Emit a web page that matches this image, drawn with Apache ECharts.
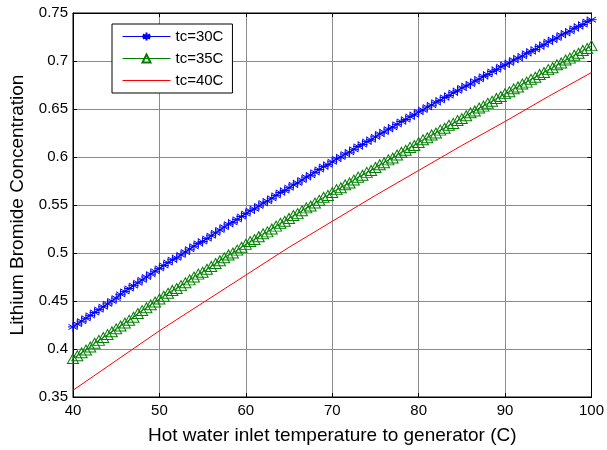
<!DOCTYPE html>
<html>
<head>
<meta charset="utf-8">
<script src="https://cdn.jsdelivr.net/npm/echarts@6/dist/echarts.min.js"></script>
<style>
    html, body { margin: 0; padding: 0; background: #fff; }
    #main { width: 607px; height: 450px; }
</style>
</head>
<body>
<div id="main"></div>
<script type="text/javascript">
    // hot water inlet temperature (C), step 0.5
    var tg = [40, 40.5, 41, 41.5, 42, 42.5, 43, 43.5, 44, 44.5, 45, 45.5, 46, 46.5, 47, 47.5, 48, 48.5, 49, 49.5,
        50, 50.5, 51, 51.5, 52, 52.5, 53, 53.5, 54, 54.5, 55, 55.5, 56, 56.5, 57, 57.5, 58, 58.5, 59, 59.5,
        60, 60.5, 61, 61.5, 62, 62.5, 63, 63.5, 64, 64.5, 65, 65.5, 66, 66.5, 67, 67.5, 68, 68.5, 69, 69.5,
        70, 70.5, 71, 71.5, 72, 72.5, 73, 73.5, 74, 74.5, 75, 75.5, 76, 76.5, 77, 77.5, 78, 78.5, 79, 79.5,
        80, 80.5, 81, 81.5, 82, 82.5, 83, 83.5, 84, 84.5, 85, 85.5, 86, 86.5, 87, 87.5, 88, 88.5, 89, 89.5,
        90, 90.5, 91, 91.5, 92, 92.5, 93, 93.5, 94, 94.5, 95, 95.5, 96, 96.5, 97, 97.5, 98, 98.5, 99, 99.5, 100];

    var tc30 = [0.423, 0.426, 0.429, 0.432, 0.435, 0.438, 0.441, 0.444, 0.447, 0.450, 0.453, 0.457, 0.460, 0.463, 0.466, 0.469, 0.472, 0.475, 0.478, 0.481,
        0.484, 0.487, 0.490, 0.493, 0.495, 0.498, 0.501, 0.504, 0.507, 0.510, 0.512, 0.515, 0.518, 0.521, 0.524, 0.527, 0.530, 0.532, 0.535, 0.538,
        0.541, 0.544, 0.546, 0.549, 0.552, 0.554, 0.557, 0.560, 0.563, 0.565, 0.568, 0.571, 0.573, 0.576, 0.579, 0.581, 0.584, 0.587, 0.590, 0.592,
        0.595, 0.598, 0.600, 0.603, 0.605, 0.608, 0.611, 0.613, 0.616, 0.618, 0.621, 0.624, 0.626, 0.629, 0.631, 0.634, 0.637, 0.639, 0.642, 0.644,
        0.647, 0.649, 0.652, 0.654, 0.657, 0.659, 0.662, 0.664, 0.667, 0.669, 0.672, 0.674, 0.676, 0.679, 0.681, 0.684, 0.686, 0.689, 0.691, 0.694,
        0.696, 0.698, 0.701, 0.703, 0.705, 0.708, 0.710, 0.712, 0.715, 0.717, 0.720, 0.722, 0.724, 0.727, 0.729, 0.731, 0.734, 0.736, 0.738, 0.741, 0.743];

    var tc35 = [0.390, 0.393, 0.396, 0.399, 0.402, 0.406, 0.409, 0.412, 0.415, 0.418, 0.421, 0.424, 0.427, 0.430, 0.433, 0.437, 0.440, 0.443, 0.446, 0.449,
        0.452, 0.455, 0.458, 0.461, 0.463, 0.466, 0.469, 0.472, 0.475, 0.478, 0.480, 0.483, 0.486, 0.489, 0.492, 0.495, 0.498, 0.500, 0.503, 0.506,
        0.509, 0.512, 0.514, 0.517, 0.520, 0.522, 0.525, 0.528, 0.531, 0.533, 0.536, 0.539, 0.541, 0.544, 0.547, 0.549, 0.552, 0.555, 0.558, 0.560,
        0.563, 0.566, 0.568, 0.571, 0.573, 0.576, 0.579, 0.581, 0.584, 0.586, 0.589, 0.592, 0.594, 0.597, 0.599, 0.602, 0.605, 0.607, 0.610, 0.612,
        0.615, 0.618, 0.620, 0.623, 0.625, 0.628, 0.630, 0.633, 0.635, 0.638, 0.640, 0.643, 0.646, 0.648, 0.651, 0.653, 0.656, 0.658, 0.661, 0.663,
        0.666, 0.668, 0.671, 0.673, 0.676, 0.678, 0.681, 0.683, 0.686, 0.688, 0.691, 0.693, 0.696, 0.698, 0.701, 0.703, 0.706, 0.708, 0.711, 0.713, 0.716];

    // red curve has no markers, read every 5 C
    var tg40 = [40, 45, 50, 55, 60, 65, 70, 75, 80, 85, 90, 95, 100];
    var tc40 = [0.357, 0.388, 0.419, 0.448, 0.477, 0.506, 0.533, 0.560, 0.586, 0.612, 0.637, 0.663, 0.688];

    var seriesNames = ['tc=30C', 'tc=35C', 'tc=40C'];

    function pairs(xs, ys) {
        return xs.map(function (x, i) { return [x, ys[i]]; });
    }

    var font = 'Liberation Sans, Arial, sans-serif';
    var star = 'path://M0,-5L0,5M-4.5,-2.6L4.5,2.6M-4.5,2.6L4.5,-2.6M-5,0L5,0';

    var myChart = echarts.init(document.getElementById('main'));

    var yFmt = function (v) { return String(+v.toFixed(2)); };

    option = {
        animation: false,
        backgroundColor: '#fff',
        grid: {
            left: 73, right: 14, top: 13, bottom: 52,
            show: true, borderColor: '#000', borderWidth: 1
        },
        legend: {
            left: 112, top: 24,
            orient: 'vertical',
            backgroundColor: '#fff',
            borderColor: '#000',
            borderWidth: 1,
            padding: [5, 9, 5, 10],
            itemWidth: 48,
            itemHeight: 10,
            itemGap: 7,
            textStyle: { fontFamily: font, fontSize: 15, color: '#000' },
            data: [
                { name: seriesNames[0], lineStyle: { width: 1 } },
                { name: seriesNames[1], lineStyle: { width: 1 } },
                { name: seriesNames[2], lineStyle: { width: 1 }, itemStyle: { opacity: 0 } }
            ]
        },
        xAxis: [{
            type: 'value', min: 40, max: 100, interval: 10,
            name: 'Hot water inlet temperature to generator (C)',
            nameLocation: 'middle', nameGap: 29,
            nameTextStyle: { fontFamily: font, fontSize: 19, color: '#000' },
            axisLine: { show: true, lineStyle: { color: '#000' } },
            axisTick: { inside: true, length: 4, lineStyle: { color: '#000' } },
            axisLabel: { fontFamily: font, fontSize: 15, color: '#000', margin: 6 },
            splitLine: { show: true, lineStyle: { color: '#8c8c8c', width: 1 } }
        }, {
            type: 'value', min: 40, max: 100, interval: 10, position: 'top',
            axisLine: { show: true, lineStyle: { color: '#000' } },
            axisTick: { inside: true, length: 4, lineStyle: { color: '#000' } },
            axisLabel: { show: false },
            splitLine: { show: false }
        }],
        yAxis: [{
            type: 'value', min: 0.35, max: 0.75, interval: 0.05,
            name: 'Lithium Bromide Concentration',
            nameLocation: 'middle', nameGap: 46,
            nameTextStyle: { fontFamily: font, fontSize: 19, color: '#000' },
            axisLine: { show: true, lineStyle: { color: '#000' } },
            axisTick: { inside: true, length: 4, lineStyle: { color: '#000' } },
            axisLabel: { fontFamily: font, fontSize: 15, color: '#000', margin: 5, formatter: yFmt },
            splitLine: { show: true, lineStyle: { color: '#8c8c8c', width: 1 } }
        }, {
            type: 'value', min: 0.35, max: 0.75, interval: 0.05, position: 'right',
            axisLine: { show: true, lineStyle: { color: '#000' } },
            axisTick: { inside: true, length: 4, lineStyle: { color: '#000' } },
            axisLabel: { show: false },
            splitLine: { show: false }
        }],
        series: [{
            name: seriesNames[0],
            type: 'line',
            data: pairs(tg, tc30),
            symbol: star,
            symbolSize: 10,
            lineStyle: { color: '#0000ff', width: 1 },
            itemStyle: { color: 'rgba(0,0,0,0)', borderColor: '#0000ff', borderWidth: 1 }
        }, {
            name: seriesNames[1],
            type: 'line',
            data: pairs(tg, tc35),
            symbol: 'triangle',
            symbolSize: [11, 10],
            lineStyle: { color: '#008000', width: 1 },
            itemStyle: { color: 'rgba(0,0,0,0)', borderColor: '#008000', borderWidth: 1 }
        }, {
            name: seriesNames[2],
            type: 'line',
            data: pairs(tg40, tc40),
            symbol: 'none',
            lineStyle: { color: '#ff0000', width: 1 },
            itemStyle: { color: '#ff0000' }
        }]
    };

    myChart.setOption(option);
</script>
</body>
</html>
